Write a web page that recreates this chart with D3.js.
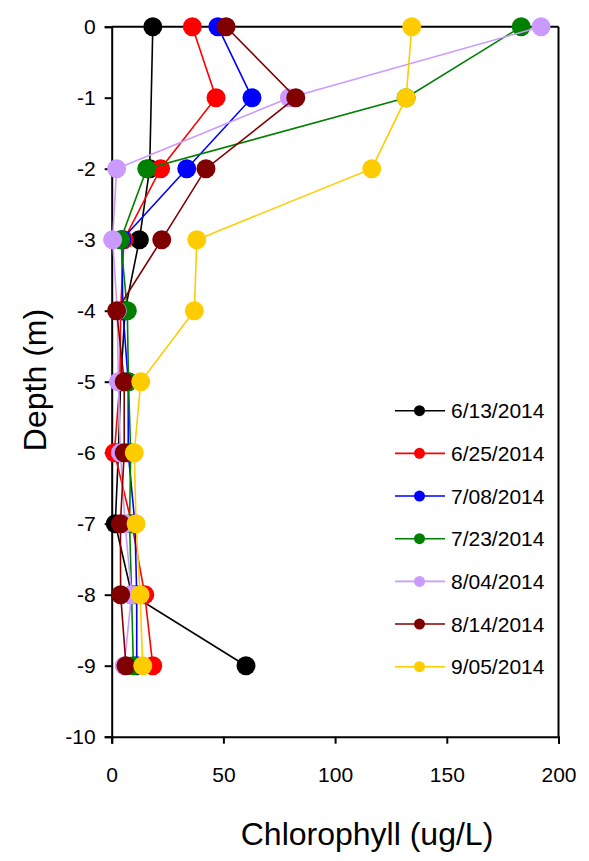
<!DOCTYPE html>
<html>
<head>
<meta charset="utf-8">
<script src="https://cdn.jsdelivr.net/npm/d3@7"></script>
<style>
  html, body { margin: 0; padding: 0; background: #fff; }
  svg { display: block; font-family: "Liberation Sans", Arial, sans-serif; }
</style>
</head>
<body>
<svg id="chart" width="589" height="861"></svg>
<script>
// Sampling depths (m) and chlorophyll profiles (ug/L) per survey date
const depths = [0, -1, -2, -3, -4, -5, -6, -7, -8, -9];
const dates = ["6/13/2014", "6/25/2014", "7/08/2014", "7/23/2014", "8/04/2014", "8/14/2014", "9/05/2014"];
const colors = ["#000000", "#ff0000", "#0000ff", "#008000", "#cc99ff", "#800000", "#ffcc00"];

const chl_0613 = [18.4, null, 17, 12.4, 6, 4, 3, 1.6, 9, 60.1];
const chl_0625 = [36.1, 46.7, 21.9, 5.5, 4, 3.7, 1.2, 9, 14.8, 18.4];
const chl_0708 = [47.5, 62.8, 33.6, 4.5, 5, 7.4, 7.4, 10.4, 11.2, 11.2];
const chl_0723 = [183.3, 131.8, 15.7, 4.0, 7.0, 7.5, 8.5, 8, 8.9, 9.7];
const chl_0804 = [192.2, 79.5, 2.2, 0.4, 2.5, 3.0, 3.9, 6, 8.9, 5.6];
const chl_0814 = [51.2, 82.4, 42.2, 22.4, 2.2, 5.6, 5.6, 3.9, 4.0, 6.4];
const chl_0905 = [134.3, 131.8, 116.4, 38.1, 37.0, 13.0, 10.1, 10.9, 12.7, 13.9];
const profiles = [chl_0613, chl_0625, chl_0708, chl_0723, chl_0804, chl_0814, chl_0905];

const xTicks = [0, 50, 100, 150, 200];
const yTicks = [0, -1, -2, -3, -4, -5, -6, -7, -8, -9, -10];

const svg = d3.select("#chart");
const plotL = 111.7, plotR = 558.5, plotT = 26.7, plotB = 736.7;

const x = d3.scaleLinear().domain([0, 200]).range([plotL, plotR]);
const y = d3.scaleLinear().domain([0, -10]).range([plotT, plotB]);

// Frame: top and right edges
svg.append("line").attr("x1", plotL).attr("x2", plotR).attr("y1", plotT).attr("y2", plotT)
  .attr("stroke", "#000").attr("stroke-width", 2);
svg.append("line").attr("x1", plotR).attr("x2", plotR).attr("y1", plotT).attr("y2", plotB)
  .attr("stroke", "#000").attr("stroke-width", 2);

// Axes
const xAxis = svg.append("g").attr("transform", `translate(0,${plotB})`)
  .call(d3.axisBottom(x).tickValues(xTicks).tickSize(7).tickPadding(23).tickFormat(d => String(d)));
const yAxis = svg.append("g").attr("transform", `translate(${plotL},0)`)
  .call(d3.axisLeft(y).tickValues(yTicks).tickSize(7).tickPadding(9).tickFormat(d => String(d)));
[xAxis, yAxis].forEach(g => {
  g.select(".domain").attr("stroke-width", 2);
  g.selectAll(".tick line").attr("stroke-width", 2);
  g.selectAll(".tick text").attr("font-size", 21).attr("fill", "#000")
    .attr("font-family", "Liberation Sans, Arial, sans-serif");
});

// Axis titles
svg.append("text").attr("x", 367).attr("y", 845)
  .attr("text-anchor", "middle").attr("font-size", 32).text("Chlorophyll (ug/L)");
svg.append("text").attr("transform", `translate(46,380) rotate(-90)`)
  .attr("text-anchor", "middle").attr("font-size", 32).text("Depth (m)");

// Profiles: line then markers, series drawn in date order
const line = d3.line().x(d => x(d.v)).y(d => y(d.z));
profiles.forEach((vals, i) => {
  const pts = depths.map((z, k) => ({ z, v: vals[k] })).filter(d => d.v !== null);
  const g = svg.append("g");
  g.append("path").datum(pts).attr("d", line)
    .attr("fill", "none").attr("stroke", colors[i]).attr("stroke-width", 1.6);
  g.selectAll("circle").data(pts).join("circle")
    .attr("cx", d => x(d.v)).attr("cy", d => y(d.z)).attr("r", 9.5)
    .attr("fill", colors[i]);
});

// Legend
const legend = svg.append("g");
dates.forEach((label, i) => {
  const ly = 410.7 + i * 42.67;
  legend.append("line").attr("x1", 395).attr("x2", 445).attr("y1", ly).attr("y2", ly)
    .attr("stroke", colors[i]).attr("stroke-width", 1.6);
  legend.append("circle").attr("cx", 419.5).attr("cy", ly).attr("r", 5.5).attr("fill", colors[i]);
  legend.append("text").attr("x", 451).attr("y", ly).attr("dy", "0.36em")
    .attr("font-size", 21).text(label);
});
</script>
</body>
</html>
